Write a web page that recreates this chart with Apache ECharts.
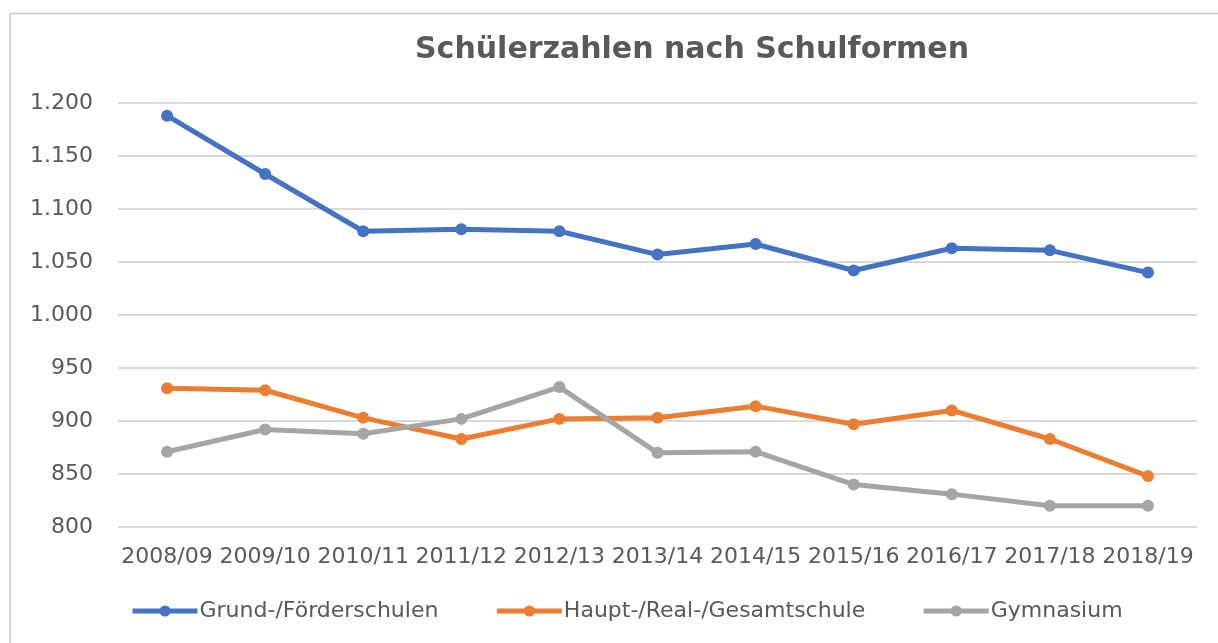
<!DOCTYPE html>
<html>
<head>
<meta charset="utf-8">
<script src="https://cdn.jsdelivr.net/npm/echarts@6/dist/echarts.min.js"></script>
<style>
  html, body { margin: 0; padding: 0; background: #fff; }
  #main { width: 1218px; height: 643px; }
</style>
</head>
<body>
<div id="main"></div>
<script>
// Schuljahre
var years = ['2008/09', '2009/10', '2010/11', '2011/12', '2012/13', '2013/14',
  '2014/15', '2015/16', '2016/17', '2017/18', '2018/19'];

var grundFoerder = [1188, 1133, 1079, 1081, 1079, 1057, 1067, 1042, 1063, 1061, 1040];
var hauptRealGesamt = [931, 929, 903, 883, 902, 903, 914, 897, 910, 883, 848];
var gymnasium = [871, 892, 888, 902, 932, 870, 871, 840, 831, 820, 820];

var seriesNames = ['Grund-/Förderschulen', 'Haupt-/Real-/Gesamtschule', 'Gymnasium'];
var colors = ['#4472C4', '#ED7D31', '#A5A5A5'];

var chart = echarts.init(document.getElementById('main'));

function makeLine(name, data, color) {
  return {
    name: name,
    type: 'line',
    data: data,
    symbol: 'circle',
    symbolSize: 12,
    lineStyle: { width: 5, color: color },
    itemStyle: { color: color },
    z: 3
  };
}

var option = {
  backgroundColor: '#fff',
  animation: false,
  title: {
    text: 'Schülerzahlen nach Schulformen',
    left: 687,
    textAlign: 'center',
    top: 30,
    textStyle: {
      fontFamily: 'DejaVu Sans',
      fontWeight: 'bold',
      fontSize: 30,
      color: '#595959'
    }
  },
  graphic: [{
    type: 'polyline',
    shape: { points: [[10, 700], [10, 13.5], [1230, 13.5]] },
    style: { stroke: '#c8c8c8', lineWidth: 1.5, fill: null }
  }],
  legend: {
    left: 125,
    top: 595,
    itemWidth: 65,
    itemHeight: 14,
    itemGap: 56,
    data: seriesNames,
    lineStyle: { width: 5 },
    textStyle: { fontFamily: 'DejaVu Sans', fontSize: 22, color: '#595959', padding: [0, 0, 0, -3] }
  },
  grid: { left: 118, right: 21, top: 103, bottom: 116 },
  xAxis: {
    type: 'category',
    data: years,
    boundaryGap: true,
    axisLine: { show: false },
    axisTick: { show: false },
    axisLabel: {
      margin: 19,
      interval: 0,
      fontFamily: 'DejaVu Sans',
      fontSize: 22,
      color: '#595959'
    }
  },
  yAxis: {
    type: 'value',
    min: 800,
    max: 1200,
    interval: 50,
    axisLine: { show: false },
    axisTick: { show: false },
    splitLine: { lineStyle: { color: '#d9d9d9', width: 2 } },
    axisLabel: {
      margin: 25,
      fontFamily: 'DejaVu Sans',
      fontSize: 22,
      color: '#595959',
      formatter: function (v) {
        return String(v).replace(/\B(?=(\d{3})+(?!\d))/g, '.');
      }
    }
  },
  series: [
    makeLine(seriesNames[0], grundFoerder, colors[0]),
    makeLine(seriesNames[1], hauptRealGesamt, colors[1]),
    makeLine(seriesNames[2], gymnasium, colors[2])
  ]
};

chart.setOption(option);
</script>
</body>
</html>
